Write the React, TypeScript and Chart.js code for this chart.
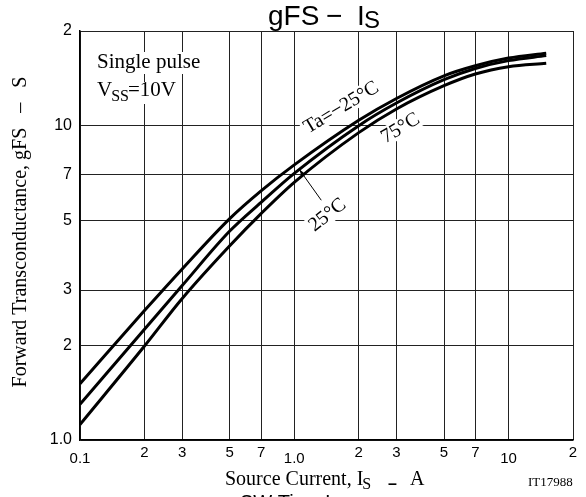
import React, { useEffect, useRef } from "react";
import { Chart, registerables } from "chart.js";

Chart.register(...registerables);

// Source current Is (A)
const currentIs = [0.1, 0.2, 0.3, 0.5, 0.7, 1.0, 2, 3, 5, 7, 10, 15];
// Forward transconductance gFS (S) per ambient temperature
const gfsTaMinus25 = [1.51, 2.58, 3.5, 5.06, 6.2, 7.5, 10.4, 12.2, 14.4, 15.5, 16.4, 17.0];
const gfsTa25 = [1.3, 2.25, 3.1, 4.62, 5.7, 7.05, 10.0, 11.8, 14.0, 15.2, 16.1, 16.7];
const gfsTa75 = [1.12, 1.99, 2.82, 4.15, 5.25, 6.6, 9.5, 11.3, 13.4, 14.6, 15.4, 15.8];

const xTickValues = [0.1, 0.2, 0.3, 0.5, 0.7, 1, 2, 3, 5, 7, 10, 20];
const xTickLabels = ["0.1", "2", "3", "5", "7", "1.0", "2", "3", "5", "7", "10", "2"];
const yTickValues = [1, 2, 3, 5, 7, 10, 20];
const yTickLabels = ["1.0", "2", "3", "5", "7", "10", "2"];

const SERIF = "'Liberation Serif', 'DejaVu Serif', serif";
const SANS = "'Liberation Sans', Arial, sans-serif";

const toPoints = (ys: number[]) => currentIs.map((x, i) => ({ x, y: ys[i] }));

const textPlugin = {
  id: "textPlugin",
  beforeDatasetsDraw(chart: any) {
    const ctx = chart.ctx as CanvasRenderingContext2D;
    const xs = chart.scales.x;
    const ys = chart.scales.y;
    ctx.save();

    const boxText = (x: number, base: number, w: number) => {
      ctx.fillStyle = "#fff";
      ctx.fillRect(x - 3, base - 16, w + 6, 22);
    };
    ctx.textBaseline = "alphabetic";
    ctx.textAlign = "left";
    ctx.font = `21px ${SERIF}`;
    const spW = ctx.measureText("Single pulse").width;
    boxText(97, 68, spW);
    ctx.fillStyle = "#000";
    ctx.fillText("Single pulse", 97, 68);

    ctx.font = `21px ${SERIF}`;
    const vW = ctx.measureText("V").width;
    ctx.font = `16px ${SERIF}`;
    const ssW = ctx.measureText("SS").width;
    ctx.font = `21px ${SERIF}`;
    const eqW = ctx.measureText("=10V").width;
    boxText(97, 98, vW + ssW + eqW);
    ctx.fillStyle = "#000";
    ctx.fillText("V", 97, 96);
    ctx.font = `16px ${SERIF}`;
    ctx.fillText("SS", 97 + vW - 1, 101);
    ctx.font = `21px ${SERIF}`;
    ctx.fillText("=10V", 97 + vW + ssW - 2, 96);

    const rotLabel = (text: string, vx: number, vy: number, deg: number) => {
      const px = xs.getPixelForValue(vx);
      const py = ys.getPixelForValue(vy);
      ctx.save();
      ctx.translate(px, py);
      ctx.rotate((deg * Math.PI) / 180);
      ctx.font = `20px ${SERIF}`;
      const w = ctx.measureText(text).width;
      ctx.fillStyle = "#fff";
      ctx.fillRect(-w / 2 - 3, -10, w + 6, 19);
      ctx.fillStyle = "#000";
      ctx.textAlign = "center";
      ctx.textBaseline = "middle";
      ctx.fillText(text, 0, 0);
      ctx.restore();
    };
    rotLabel("Ta=\u221225\u00b0C", 1.66, 11.4, -31);
    rotLabel("75\u00b0C", 3.13, 9.8, -31);
    rotLabel("25\u00b0C", 1.43, 5.19, -38);

    const ax0 = xs.getPixelForValue(1.337);
    const ay0 = ys.getPixelForValue(5.79);
    const ax1 = xs.getPixelForValue(1.055);
    const ay1 = ys.getPixelForValue(7.26);
    ctx.strokeStyle = "#000";
    ctx.lineWidth = 1;
    ctx.beginPath();
    ctx.moveTo(ax0, ay0);
    ctx.lineTo(ax1, ay1);
    ctx.stroke();
    const ang = Math.atan2(ay1 - ay0, ax1 - ax0);
    const hl = 8;
    ctx.beginPath();
    ctx.moveTo(ax1, ay1);
    ctx.lineTo(ax1 - hl * Math.cos(ang - 0.3), ay1 - hl * Math.sin(ang - 0.3));
    ctx.lineTo(ax1 - hl * Math.cos(ang + 0.3), ay1 - hl * Math.sin(ang + 0.3));
    ctx.closePath();
    ctx.fillStyle = "#000";
    ctx.fill();

    ctx.restore();
  },
  afterDraw(chart: any) {
    const ctx = chart.ctx as CanvasRenderingContext2D;
    ctx.save();
    ctx.fillStyle = "#000";
    ctx.textAlign = "left";
    ctx.textBaseline = "alphabetic";

    // Title gFS − IS
    ctx.font = `28px ${SANS}`;
    ctx.fillText("gFS", 268, 25);
    ctx.fillText("\u2212", 326, 25);
    ctx.fillText("I", 357, 25);
    ctx.font = `24px ${SANS}`;
    ctx.fillText("S", 364, 28);

    // X axis title
    ctx.font = `20px ${SERIF}`;
    ctx.fillText("Source Current, I", 225, 485);
    const w1 = ctx.measureText("Source Current, I").width;
    ctx.font = `16px ${SERIF}`;
    ctx.fillText("S", 225 + w1 - 1, 489);
    ctx.font = `bold 16px ${SANS}`;
    ctx.fillText("\u2013", 388, 489);
    ctx.font = `20px ${SERIF}`;
    ctx.fillText("A", 410, 485);

    ctx.font = `13px ${SERIF}`;
    ctx.fillText("IT17988", 528, 486);

    // Cut-off text of the next figure
    ctx.font = `20px ${SANS}`;
    ctx.fillText("SW Time", 240, 509);
    ctx.fillText("I", 325, 509);

    // Y axis title
    ctx.save();
    ctx.translate(26, 232);
    ctx.rotate(-Math.PI / 2);
    ctx.font = `20px ${SERIF}`;
    ctx.textAlign = "center";
    ctx.fillText("Forward Transconductance, gFS   \u2013   S", 0, 0);
    ctx.restore();

    ctx.restore();
  },
};

export default function App() {
  const ref = useRef<HTMLCanvasElement | null>(null);

  useEffect(() => {
    document.body.style.margin = "0";
    if (!ref.current) return;
    const lineDs = (label: string, ys: number[]) => ({
      label,
      data: toPoints(ys),
      borderColor: "#000",
      borderWidth: 3,
      pointRadius: 0,
      fill: false,
      cubicInterpolationMode: "monotone" as const,
    });
    const chart = new Chart(ref.current, {
      type: "line",
      data: {
        datasets: [
          lineDs("Ta=-25°C", gfsTaMinus25),
          lineDs("25°C", gfsTa25),
          lineDs("75°C", gfsTa75),
        ],
      },
      options: {
        animation: false,
        responsive: false,
        devicePixelRatio: 1,
        layout: { padding: { left: 0, right: 13, top: 31, bottom: 0 } },
        plugins: {
          legend: { display: false },
          title: { display: false },
          tooltip: { enabled: false },
        },
        scales: {
          x: {
            type: "logarithmic",
            min: 0.1,
            max: 20,
            afterBuildTicks: (scale: any) => {
              scale.ticks = xTickValues.map((v) => ({ value: v }));
            },
            afterFit: (scale: any) => {
              scale.height = 57;
            },
            grid: { color: "#222", lineWidth: 1, drawTicks: false },
            border: { color: "#000", width: 1.5 },
            ticks: {
              autoSkip: false,
              maxRotation: 0,
              padding: 4,
              color: "#000",
              font: (c: any) => {
                const lbl = xTickLabels[c.index] || "";
                return {
                  family: SANS,
                  size: 15,
                  lineHeight: lbl.length > 1 ? 1.95 : 1.2,
                };
              },
              callback: (_v: any, i: number) => xTickLabels[i],
            },
          },
          y: {
            type: "logarithmic",
            min: 1,
            max: 20,
            afterBuildTicks: (scale: any) => {
              scale.ticks = yTickValues.map((v) => ({ value: v }));
            },
            afterFit: (scale: any) => {
              scale.width = 80;
            },
            grid: { color: "#222", lineWidth: 1, drawTicks: false },
            border: { color: "#000", width: 1.5 },
            ticks: {
              autoSkip: false,
              padding: 8,
              color: "#000",
              font: { family: SANS, size: 16 },
              callback: (_v: any, i: number) => yTickLabels[i],
            },
          },
        },
      },
      plugins: [textPlugin],
    });
    return () => chart.destroy();
  }, []);

  return (
    <div style={{ width: 586, height: 497, background: "#fff" }}>
      <canvas ref={ref} width={586} height={497} style={{ display: "block" }} />
    </div>
  );
}
